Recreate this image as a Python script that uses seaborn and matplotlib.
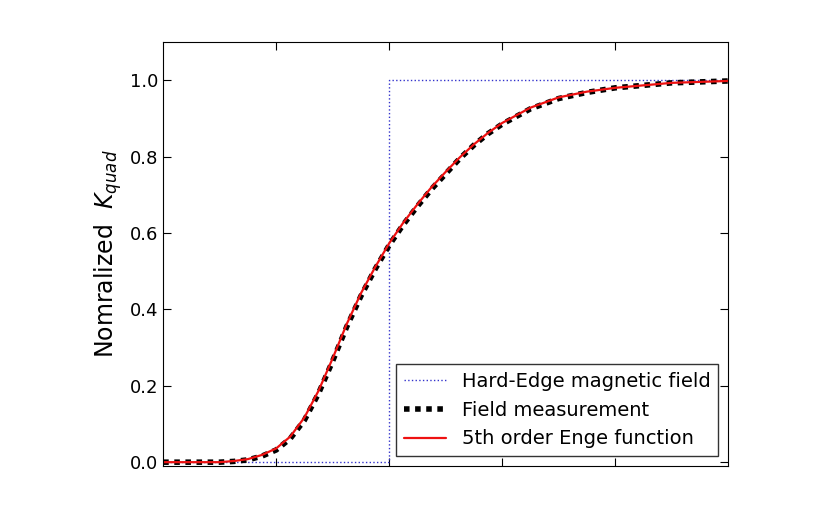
import matplotlib
matplotlib.use("Agg")
import matplotlib.pyplot as plt
import seaborn as sns
import pandas as pd

x_vals = [-2.0, -1.5, -1.375, -1.25, -1.125, -1.0, -0.875, -0.75, -0.625, -0.5, -0.375, -0.25, -0.125, 0.0,
          0.125, 0.25, 0.375, 0.5, 0.625, 0.75, 0.875, 1.0, 1.25, 1.5, 1.75, 2.0, 2.5, 3.0]
meas_vals = [0.0, 0.0, 0.002, 0.006, 0.016, 0.032, 0.062, 0.11, 0.18, 0.265, 0.355, 0.435, 0.505, 0.568,
             0.622, 0.67, 0.715, 0.755, 0.795, 0.83, 0.86, 0.885, 0.925, 0.952, 0.968, 0.98, 0.993, 0.998]
enge_vals = [0.0, 0.0, 0.003, 0.008, 0.019, 0.036, 0.067, 0.117, 0.187, 0.272, 0.362, 0.442, 0.51, 0.573,
             0.627, 0.675, 0.72, 0.76, 0.798, 0.832, 0.862, 0.888, 0.928, 0.955, 0.97, 0.98, 0.993, 0.998]
hard_x = [-2.0, 0.0, 0.0, 3.0]
hard_y = [0.0, 0.0, 1.0, 1.0]

sns.set_style("ticks")
plt.rcParams['font.family'] = ['DejaVu Sans']
plt.rcParams['text.color'] = 'black'
plt.rcParams['ytick.labelcolor'] = 'black'
fig = plt.figure(figsize=(8.2, 5.09), dpi=100)
ax = fig.add_axes([0.199, 0.0845, 0.689, 0.833])

df = pd.DataFrame({"x": x_vals, "m": meas_vals, "e": enge_vals})
ax.plot(hard_x, hard_y, color="#3333cc", linestyle=":", lw=1, label="Hard-Edge magnetic field")
sns.lineplot(data=df, x="x", y="m", ax=ax, color="black", linestyle=(0, (1, 1)), lw=4,
             label="Field measurement")
sns.lineplot(data=df, x="x", y="e", ax=ax, color="#ee1111", lw=1.6,
             label="5th order Enge function")

ax.set_xlim(-2, 3)
ax.set_ylim(-0.01, 1.1)
ax.set_yticks([0.0, 0.2, 0.4, 0.6, 0.8, 1.0])
ax.set_yticklabels(["0.0", "0.2", "0.4", "0.6", "0.8", "1.0"], fontsize=13, color="black")
ax.set_xticks([-1, 0, 1, 2])
ax.set_xticklabels([])
ax.tick_params(direction="in", top=True, right=True, length=6, colors="black")
ax.set_xlabel("")
ax.set_ylabel(r"Nomralized  $K_{quad}$", fontsize=17, color="black")
for s in ax.spines.values():
    s.set_color("black")
leg = ax.legend(loc="lower right", fontsize=14, frameon=True, fancybox=False,
                edgecolor="black", handlelength=2.2)
for t in leg.get_texts():
    t.set_color("black")
fig.savefig("out.png", dpi=100)
